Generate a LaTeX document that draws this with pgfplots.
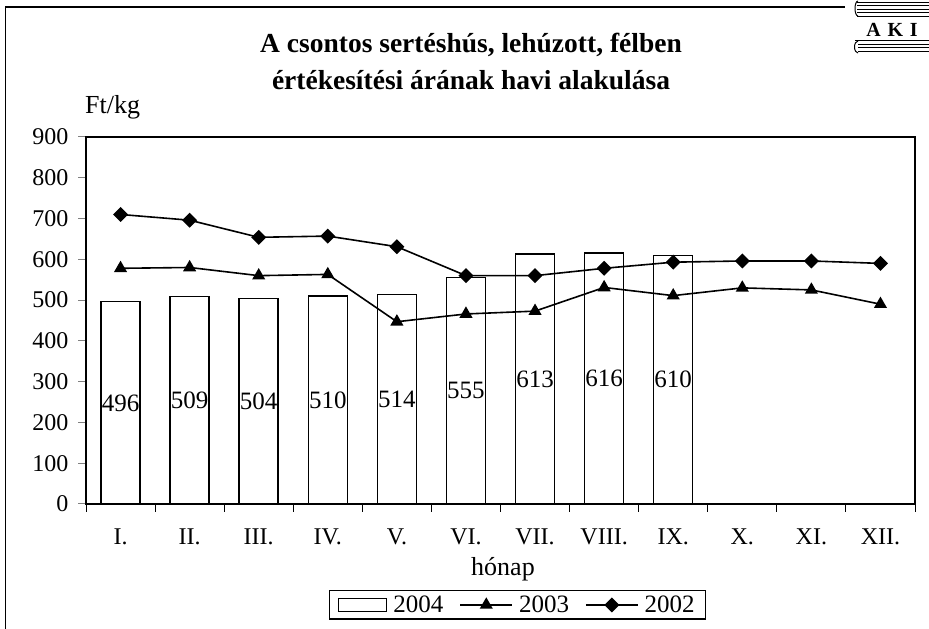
\documentclass[border=0pt]{standalone}
\usepackage{pgfplots}
\pgfplotsset{compat=1.18}
\usepackage{fontspec}
\setmainfont{Liberation Serif}
\begin{document}
\begin{tikzpicture}[x=1pt,y=1pt]
\useasboundingbox (0,0) rectangle (929,629);
% outer frame (left and top edges)
\draw[line width=1.8pt] (5.5,0) -- (5.5,622) -- (845,622);
% title
\node[font=\fontsize{27.5}{32}\selectfont\bfseries] at (471,584) {A csontos sertéshús, lehúzott, félben};
\node[font=\fontsize{27.5}{32}\selectfont\bfseries] at (471,549) {értékesítési árának havi alakulása};
\node[font=\fontsize{26}{30}\selectfont, anchor=west, inner sep=0pt] at (85,522) {Ft/kg};
\node[font=\fontsize{26}{30}\selectfont] at (503,60) {hónap};
% logo
\begin{scope}[line width=0.6pt]
\foreach \yy in {627,623.5,620,616.5,613} {\draw (857,\yy) -- (929,\yy);}
\draw[line width=1pt] (858,628) arc (90:270:3 and 7.5);
\draw[line width=1pt] (855,588) -- (929,588);
\foreach \yy in {585,581.5,578} {\draw (858,\yy) -- (929,\yy);}
\draw[line width=1pt] (858,588) arc (90:270:3.5 and 6);
\end{scope}
\node[font=\fontsize{20}{24}\selectfont\bfseries] at (892,599) {A\,\,K\,\,I};
\begin{axis}[
  at={(86pt,125pt)}, anchor=south west,
  scale only axis, width=829pt, height=367pt,
  xmin=-0.5, xmax=11.5, ymin=0, ymax=900,
  ytick={0,100,...,900},
  xtick={0,...,11},
  xticklabels={I.,II.,III.,IV.,V.,VI.,VII.,VIII.,IX.,X.,XI.,XII.},
  minor xtick={-0.5,0.5,...,11.5},
  tick align=outside, tick pos=left,
  major tick length=8pt, minor tick length=8pt,
  x tick style={draw=none},
  minor x tick style={draw=black, line width=1pt},
  y tick style={line width=1pt},
  axis line style={line width=1.2pt},
  ticklabel style={font=\fontsize{24}{28}\selectfont},
  xticklabel style={yshift=-13pt},
  yticklabel style={xshift=-6pt},
  /pgf/number format/assume math mode=true,
  legend columns=3,
  legend style={at={(axis description cs:0.5205,-0.275)}, anchor=center,
    draw=black, line width=1.2pt, font=\fontsize{25}{28}\selectfont,
    inner xsep=9pt, inner ysep=3pt,
    /tikz/every odd column/.append style={column sep=4pt},
    /tikz/every even column/.append style={column sep=14pt}},
]
\addplot[ybar, bar width=39pt, fill=white, draw=black, line width=1.5pt,
  visualization depends on=y \as \rawy,
  nodes near coords,
  nodes near coords style={anchor=center, font=\fontsize{25}{28}\selectfont, inner sep=0pt,
    shift={(axis direction cs:0,-\rawy/2)}},
  legend image code/.code={\draw[line width=1.2pt] (0pt,-6.5pt) rectangle (48pt,6.5pt);}]
coordinates {(0,496) (1,509) (2,504) (3,510) (4,514) (5,555) (6,613) (7,616) (8,610)};
\addlegendentry{2004}
\addplot[black, line width=1.6pt, mark=triangle*, mark size=6pt, mark options={solid},
  legend image code/.code={\draw[line width=1.6pt] (0pt,0pt) -- (52pt,0pt); \draw plot[mark=triangle*, mark size=6pt] coordinates {(26pt,0pt)};}]
coordinates {(0,578) (1,580) (2,560) (3,563) (4,447) (5,466) (6,473) (7,531) (8,511) (9,530) (10,525) (11,490)};
\addlegendentry{2003}
\addplot[black, line width=1.6pt, mark=square*, mark size=4.5pt, mark options={rotate=45},
  legend image code/.code={\draw[line width=1.6pt] (0pt,0pt) -- (52pt,0pt); \draw plot[mark=square*, mark size=4.5pt, mark options={rotate=45}] coordinates {(26pt,0pt)};}]
coordinates {(0,710) (1,696) (2,654) (3,657) (4,631) (5,560) (6,560) (7,578) (8,593) (9,596) (10,596) (11,590)};
\addlegendentry{2002}
\end{axis}
\end{tikzpicture}
\end{document}
